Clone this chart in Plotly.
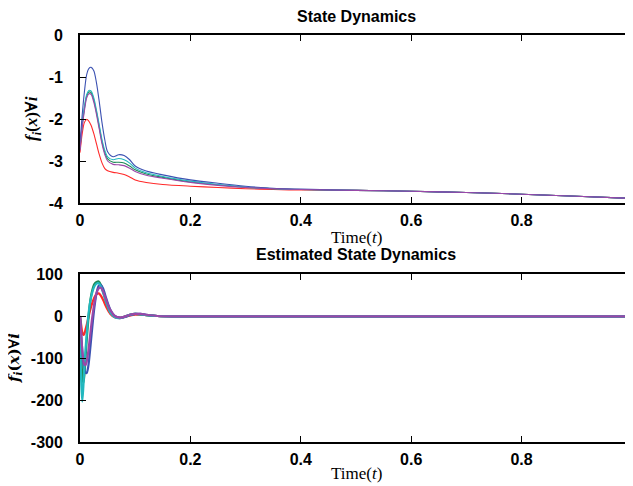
import plotly.graph_objects as go

# ---------------- data ----------------
t_top = [0, 0.004, 0.008, 0.012, 0.016, 0.02, 0.025, 0.03, 0.035, 0.04, 0.045, 0.05,
         0.06, 0.07, 0.08, 0.09, 0.1, 0.12, 0.15, 0.2, 0.25, 0.3, 0.35, 0.4, 0.5,
         0.6, 0.7, 0.8, 0.9, 1.0]
tail = [-3.7, -3.72, -3.75, -3.79, -3.84, -3.89]
top_blue = [-2.6, -1.9, -1.35, -0.95, -0.8, -0.77, -0.85, -1.15, -1.6, -2.1, -2.5, -2.78,
            -2.9, -2.85, -2.87, -2.97, -3.12, -3.24, -3.33, -3.45, -3.53, -3.6, -3.65, -3.67] + tail
top_cyan = [-2.7, -2.1, -1.7, -1.42, -1.32, -1.33, -1.5, -1.8, -2.15, -2.5, -2.75, -2.9,
            -2.97, -2.94, -2.97, -3.05, -3.17, -3.28, -3.37, -3.48, -3.56, -3.62, -3.66, -3.68] + tail
top_green = [-2.7, -2.15, -1.75, -1.46, -1.36, -1.37, -1.55, -1.85, -2.2, -2.55, -2.8, -2.95,
             -3.03, -3.03, -3.05, -3.12, -3.21, -3.31, -3.39, -3.5, -3.57, -3.63, -3.66, -3.68] + tail
top_purple = [-2.75, -2.2, -1.8, -1.5, -1.4, -1.41, -1.6, -1.9, -2.25, -2.6, -2.85, -3.0,
              -3.08, -3.09, -3.11, -3.17, -3.25, -3.34, -3.41, -3.51, -3.58, -3.63, -3.66, -3.68] + tail
top_red = [-2.8, -2.35, -2.08, -2.01, -2.05, -2.15, -2.35, -2.6, -2.85, -3.05, -3.18, -3.23,
           -3.27, -3.29, -3.32, -3.38, -3.45, -3.51, -3.56, -3.6, -3.63, -3.66, -3.68, -3.69] + tail

t_bot = [0, 0.002, 0.004, 0.006, 0.008, 0.01, 0.012, 0.015, 0.018, 0.022, 0.026, 0.03,
         0.034, 0.038, 0.042, 0.048, 0.055, 0.063, 0.072, 0.08, 0.09, 0.1, 0.11, 0.12,
         0.14, 0.17, 0.2, 0.3, 0.5, 0.7, 1.0]
bot_cyan = [0, -150, -204, -170, -120, -80, -45, 0, 30, 55, 70, 77, 78, 70, 55, 30, 8, -3, -5,
            -2, 3, 5, 4, 2, 0, -1, -1, -1, -1, -1, -1]
bot_blue = [0, -40, -80, -110, -128, -135, -136, -120, -85, -30, 20, 55, 72, 74, 65, 40, 15, 0, -4,
            -3, 2, 5, 5, 3, 0, -1, -1, -1, -1, -1, -1]
bot_green = [0, -80, -140, -160, -140, -100, -60, -10, 30, 60, 76, 81, 82, 74, 58, 32, 10, -2, -5,
             -2, 3, 5, 4, 2, 0, -1, -1, -1, -1, -1, -1]
bot_purple = [0, -40, -80, -105, -115, -117, -110, -85, -50, -5, 30, 55, 66, 67, 58, 36, 14, 0, -4,
              -2, 3, 5, 5, 3, 0, -1, -1, -1, -1, -1, -1]
bot_red = [0, -20, -38, -45, -42, -32, -22, -5, 12, 30, 44, 52, 54, 48, 38, 20, 5, -3, -4,
           -2, 1, 3, 3, 2, 0, -1, -1, -1, -1, -1, -1]

x_ticks = [0, 0.2, 0.4, 0.6, 0.8, 1]
x_ticktext = ["0", "0.2", "0.4", "0.6", "0.8", "1"]
y_top_ticks = [0, -1, -2, -3, -4]
y_top_text = ["0", "-1", "-2", "-3", "-4"]
y_bot_ticks = [100, 0, -100, -200, -300]
y_bot_text = ["100", "0", "-100", "-200", "-300"]

C_BLUE = "#3c52b2"
C_CYAN = "#22b8bf"
C_GREEN = "#1e8a55"
C_PURPLE = "#9a48a8"
C_RED = "#ff2a2a"

fig = go.Figure()
for y, c in [(top_red, C_RED), (top_green, C_GREEN), (top_cyan, C_CYAN),
             (top_blue, C_BLUE), (top_purple, C_PURPLE)]:
    fig.add_trace(go.Scatter(x=t_top, y=y, mode="lines", xaxis="x", yaxis="y",
                             line=dict(color=c, width=1.1, shape="spline", smoothing=0.8),
                             showlegend=False))
for y, c in [(bot_red, C_RED), (bot_green, C_GREEN), (bot_blue, C_BLUE),
             (bot_cyan, C_CYAN), (bot_purple, C_PURPLE)]:
    fig.add_trace(go.Scatter(x=t_bot, y=y, mode="lines", xaxis="x2", yaxis="y2",
                             line=dict(color=c, width=2.2, shape="spline", smoothing=0.8),
                             showlegend=False))

# The page body has an 8px default margin; layout positions below are page pixels.
OFF = 8
W, H = 633, 486


def px_x(px):
    return (px - OFF) / W


def px_y(py):
    return 1 - (py - OFF) / H


tickfont = dict(family="Liberation Sans, Arial", size=16, color="black", weight="bold")
axis_common = dict(showline=True, linecolor="black", linewidth=1.8, mirror="ticks",
                   ticks="inside", ticklen=6, tickwidth=1, tickcolor="black",
                   showgrid=False, zeroline=False, tickfont=tickfont, automargin=False)

XD = [px_x(80), px_x(632)]
fig.update_layout(
    width=W, height=H,
    margin=dict(l=0, r=0, t=0, b=0),
    paper_bgcolor="white", plot_bgcolor="white",
    xaxis=dict(axis_common, domain=XD, range=[0, 1], anchor="y",
               tickvals=x_ticks, ticktext=x_ticktext, ticklabelstandoff=2),
    yaxis=dict(axis_common, domain=[px_y(203), px_y(35)], range=[-4, 0], anchor="x",
               tickvals=y_top_ticks, ticktext=y_top_text, ticklabelstandoff=12),
    xaxis2=dict(axis_common, domain=XD, range=[0, 1], anchor="y2",
                tickvals=x_ticks, ticktext=x_ticktext, ticklabelstandoff=2),
    yaxis2=dict(axis_common, domain=[px_y(442), px_y(274)], range=[-300, 100], anchor="x2",
                tickvals=y_bot_ticks, ticktext=y_bot_text, ticklabelstandoff=12),
)

title_font = dict(family="Liberation Sans, Arial", size=16, color="black", weight="bold")
serif = dict(family="Liberation Serif, DejaVu Serif", size=17, color="black")
serif_hat = dict(family="DejaVu Serif", size=15, color="black")

annots = [
    dict(text="State Dynamics", x=px_x(356), y=px_y(17), font=title_font),
    dict(text="Estimated State Dynamics", x=px_x(356), y=px_y(254), font=title_font),
    dict(text="Time(<i>t</i>)", x=px_x(356), y=px_y(237), font=serif),
    dict(text="Time(<i>t</i>)", x=px_x(356), y=px_y(473), font=serif),
    dict(text="<b><i>f<sub>i</sub></i>(<i>x</i>)∀<i>i</i></b>", x=px_x(33), y=px_y(119),
         font=serif, textangle=-90),
    dict(text="<b><i>f\u0302<sub>i</sub></i>(<i>x</i>)∀<i>i</i></b>", x=px_x(14), y=px_y(358),
         font=serif_hat, textangle=-90),
]
for a in annots:
    fig.add_annotation(xref="paper", yref="paper", xanchor="center", yanchor="middle",
                       showarrow=False, **a)

fig.write_html("out.html")
